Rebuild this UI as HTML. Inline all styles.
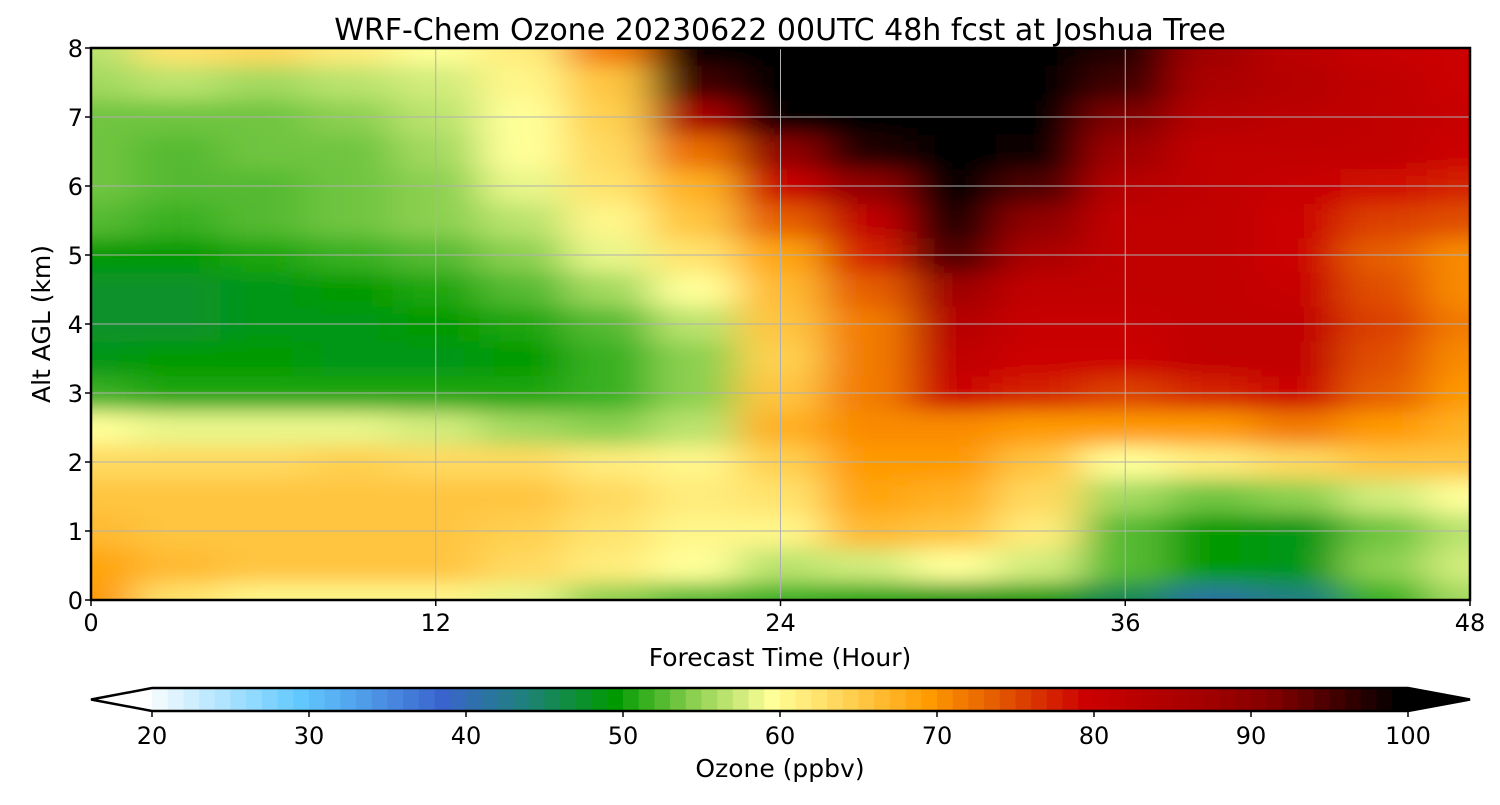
<!DOCTYPE html>
<html><head><meta charset="utf-8"><style>
body{margin:0;background:#fff;width:1500px;height:800px;overflow:hidden}
svg text{font-family:"DejaVu Sans","Liberation Sans",sans-serif;fill:#000}
</style></head><body>
<svg id="chart" width="1500" height="800" xmlns="http://www.w3.org/2000/svg">
<defs>
<clipPath id="plotclip"><rect x="91" y="48" width="1379" height="552"/></clipPath>
<filter id="blur" x="-10%" y="-10%" width="120%" height="120%"><feGaussianBlur stdDeviation="22 10"/></filter>
</defs>
<text x="780" y="40" font-size="30" text-anchor="middle">WRF-Chem Ozone  20230622 00UTC 48h fcst at Joshua Tree</text>
<g clip-path="url(#plotclip)"><g id="cells" filter="url(#blur)"></g></g>
<g id="grid"></g>
<rect x="91" y="48" width="1379" height="552" fill="none" stroke="#000" stroke-width="2.5"/>
<g id="axes"></g>
<text x="780" y="666" font-size="25" text-anchor="middle">Forecast Time (Hour)</text>
<text transform="translate(50,324) rotate(-90)" font-size="25" text-anchor="middle">Alt AGL (km)</text>
<g id="cbar"></g>
<text x="780" y="777" font-size="25" text-anchor="middle">Ozone  (ppbv)</text>
</svg>
<script>
const hours=[0,3,6,9,12,15,18,21,24,27,30,33,36,39,42,45,48];
const alts=[0,0.5,1,1.5,2,2.5,3,3.5,4,4.5,5,5.5,6,6.5,7,7.5,8];
const ozone=[
[70,63,61,61,61,59,55,53,52,51,50,50,46,42,44,52,56],
[69,67,66,66,66,64,62,60,57,58,60,58,53,50,49,55,58],
[67,66,66,66,66,65,63,61,61,67,66,62,53,50,49,54,57],
[66,66,66,66,66,66,64,62,63,69,68,64,56,54,55,58,60],
[64,64,64,65,64,64,62,61,65,70,70,66,60,62,64,66,66],
[60,59,59,59,58,56,55,57,68,71,71,70,70,70,72,70,68],
[52,51,51,51,51,51,52,55,66,72,80,78,76,78,80,74,70],
[49,50,50,49,49,50,52,55,65,72,82,80,80,82,82,75,71],
[48,48,49,49,50,51,53,57,66,72,84,81,81,82,82,76,72],
[48,48,49,50,51,53,56,60,67,74,88,82,82,82,81,75,71],
[50,50,51,52,53,55,59,63,69,78,95,86,82,82,80,74,71],
[53,52,53,54,55,57,61,66,74,82,98,90,82,82,80,76,75],
[54,53,53,54,55,59,63,68,80,90,100,95,84,82,81,79,78],
[54,53,54,54,56,60,64,73,90,98,100,99,88,82,82,82,80],
[54,54,54,55,57,60,65,86,100,100,100,100,92,84,83,82,81],
[56,57,56,57,58,61,66,96,100,100,100,100,96,86,84,82,80],
[57,63,64,62,60,62,72,100,100,100,100,100,98,88,83,81,80]];
const xTicks=[0,12,24,36,48];
const yTicks=[0,1,2,3,4,5,6,7,8];
const cbTicks=[20,30,40,50,60,70,80,90,100];

const NS="http://www.w3.org/2000/svg";
const X0=91,X1=1470,Y0=600,Y1=48;
const xs=h=>X0+(h-0)/48*(X1-X0);
const ys=a=>Y0-(a-0)/8*(Y0-Y1);
const stops=[[20,[255,255,255]],[30,[96,200,255]],[39,[58,100,205]],[44,[32,128,128]],[50,[0,154,0]],[55,[140,208,80]],[60,[255,255,153]],[65,[255,208,80]],[70,[255,154,0]],[75,[224,80,0]],[80,[204,0,0]],[88,[160,0,0]],[92,[128,0,0]],[100,[0,0,0]]];
function cmap(v){
  v=Math.round(v);
  if(v<=20)return 'rgb(255,255,255)';if(v>=100)return 'rgb(0,0,0)';
  for(let i=0;i<stops.length-1;i++){const a=stops[i],b=stops[i+1];
    if(v>=a[0]&&v<=b[0]){const t=(v-a[0])/(b[0]-a[0]);
      const c=a[1].map((q,k)=>Math.round(q+(b[1][k]-q)*t));return `rgb(${c})`;}}
}
function el(t,attrs,parent){const e=document.createElementNS(NS,t);for(const k in attrs)e.setAttribute(k,attrs[k]);parent.appendChild(e);return e;}

const cells=document.getElementById('cells');
for(let j=0;j<alts.length;j++)for(let i=0;i<hours.length;i++){
  let xa=i==0?xs(hours[0])-60:(xs(hours[i-1])+xs(hours[i]))/2;
  let xb=i==hours.length-1?xs(hours[i])+60:(xs(hours[i])+xs(hours[i+1]))/2;
  let yb=j==0?ys(alts[0])+40:(ys(alts[j-1])+ys(alts[j]))/2;
  let ya=j==alts.length-1?ys(alts[j])-40:(ys(alts[j])+ys(alts[j+1]))/2;
  const r=el('rect',{x:xa,y:ya,width:xb-xa+0.5,height:yb-ya+0.5,fill:cmap(ozone[j][i])},cells);
  
  
}
const grid=document.getElementById('grid'),axes=document.getElementById('axes');
xTicks.forEach(t=>{
  const l=el('line',{x1:xs(t),x2:xs(t),y1:Y1,y2:Y0,stroke:'#b0b0b0','stroke-width':1},grid);
  
  const tk=el('line',{x1:xs(t),x2:xs(t),y1:Y0,y2:Y0+6,stroke:'#000','stroke-width':1.5},axes);
  
  const tx=el('text',{x:xs(t),y:631,'font-size':24,'text-anchor':'middle'},axes);tx.textContent=t;
  
});
yTicks.forEach(t=>{
  const l=el('line',{x1:X0,x2:X1,y1:ys(t),y2:ys(t),stroke:'#b0b0b0','stroke-width':1},grid);
  
  const tk=el('line',{x1:X0-6,x2:X0,y1:ys(t),y2:ys(t),stroke:'#000','stroke-width':1.5},axes);
  
  const tx=el('text',{x:X0-8,y:ys(t)+9,'font-size':24,'text-anchor':'end'},axes);tx.textContent=t;
  
});
const cb=document.getElementById('cbar');
const C0=152,C1=1408,CY0=688,CY1=711;
const cx=v=>C0+(v-20)/80*(C1-C0);
for(let v=20;v<100;v++){
  const r=el('rect',{x:cx(v),y:CY0,width:cx(v+1)-cx(v)+0.6,height:CY1-CY0,fill:cmap(v+0.5)},cb);
  
}
const tri=el('polygon',{points:`${C1},${CY0} ${1470},${(CY0+CY1)/2} ${C1},${CY1}`,fill:'#000'},cb);

const tri2=el('polygon',{points:`${C0},${CY0} ${91},${(CY0+CY1)/2} ${C0},${CY1}`,fill:'#fff'},cb);

const outline=el('polygon',{points:`${C0},${CY0} ${C1},${CY0} 1470,${(CY0+CY1)/2} ${C1},${CY1} ${C0},${CY1} 91,${(CY0+CY1)/2}`,fill:'none',stroke:'#000','stroke-width':2.5},cb);

cbTicks.forEach(t=>{
  const tk=el('line',{x1:cx(t),x2:cx(t),y1:CY1,y2:CY1+6,stroke:'#000','stroke-width':1.5},cb);
  
  const tx=el('text',{x:cx(t),y:744,'font-size':24,'text-anchor':'middle'},cb);tx.textContent=t;
  
});
</script>
</body></html>
